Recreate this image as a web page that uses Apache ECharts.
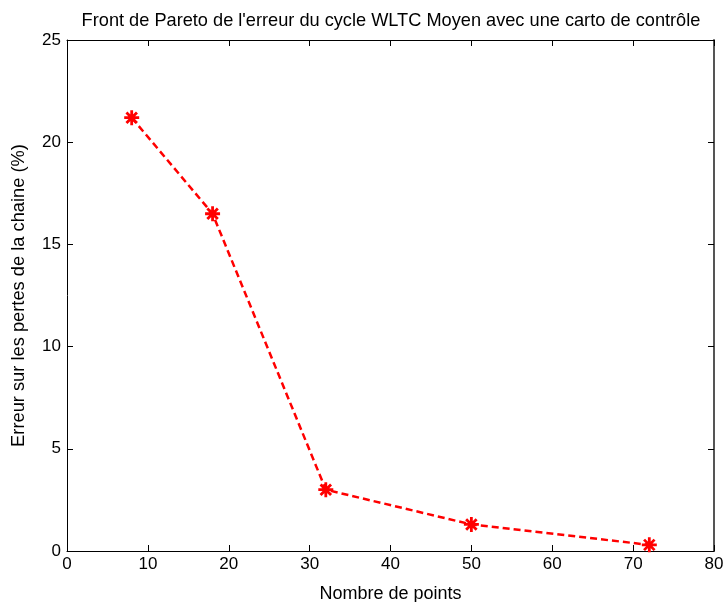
<!DOCTYPE html>
<html>
<head>
<meta charset="utf-8">
<script src="https://cdn.jsdelivr.net/npm/echarts@6/dist/echarts.min.js"></script>
<style>
  html, body { margin: 0; padding: 0; background: #fff; }
  #chart { width: 725px; height: 602px; }
</style>
</head>
<body>
<div id="chart"></div>
<script>
// nombre de points de la carto / erreur (%)
var nbPoints = [8, 18, 32, 50, 72];
var erreur = [21.2, 16.5, 3.0, 1.3, 0.3];
var xTicks = [0, 10, 20, 30, 40, 50, 60, 70, 80];
var yTicks = [0, 5, 10, 15, 20, 25];

var myChart = echarts.init(document.getElementById('chart'));
var font = 'Liberation Sans, Arial, sans-serif';

var data = [];
for (var i = 0; i < nbPoints.length; i++) {
  data.push([nbPoints[i], erreur[i]]);
}

// asterisque style matlab (+ et x)
var star = 'path://M0,-10L0,10M-10,0L10,0M-7,-7L7,7M-7,7L7,-7';

var option = {
  backgroundColor: '#fff',
  animation: false,
  title: {
    text: "Front de Pareto de l'erreur du cycle WLTC Moyen avec une carto de contrôle",
    left: 386, top: 7, textAlign: 'center',
    textStyle: { fontFamily: font, fontSize: 18.2, fontWeight: 'normal', color: '#000' }
  },
  grid: { left: 67, right: 11, top: 40, bottom: 51, outerBoundsMode: 'none', containLabel: false },
  xAxis: [{
    type: 'value', min: xTicks[0], max: xTicks[xTicks.length - 1], interval: 10,
    name: 'Nombre de points', nameLocation: 'middle', nameGap: 34,
    nameTextStyle: { fontFamily: font, fontSize: 18, color: '#000' },
    axisLine: { lineStyle: { color: '#000', width: 1 } },
    axisTick: { inside: true, length: 6, lineStyle: { color: '#000' } },
    axisLabel: { fontFamily: font, fontSize: 17, color: '#000', margin: 5 },
    splitLine: { show: false }
  }, {
    type: 'value', position: 'top', min: 0, max: 80, interval: 10,
    axisLine: { show: true, onZero: false, lineStyle: { color: '#000', width: 1 } },
    axisTick: { inside: true, length: 6, lineStyle: { color: '#000' } },
    axisLabel: { show: false },
    splitLine: { show: false }
  }],
  yAxis: [{
    type: 'value', min: yTicks[0], max: yTicks[yTicks.length - 1], interval: 5,
    name: 'Erreur sur les pertes de la chaine (%)', nameLocation: 'middle', nameGap: 39,
    nameTextStyle: { fontFamily: font, fontSize: 18.3, color: '#000' },
    axisLine: { show: true, lineStyle: { color: '#000', width: 1 } },
    axisTick: { show: true, inside: true, length: 6, lineStyle: { color: '#000' } },
    axisLabel: { fontFamily: font, fontSize: 17, color: '#000', margin: 6 },
    splitLine: { show: false }
  }, {
    type: 'value', position: 'right', min: 0, max: 25, interval: 5,
    axisLine: { show: true, onZero: false, lineStyle: { color: '#555', width: 2 } },
    axisTick: { show: true, inside: true, length: 6, lineStyle: { color: '#000' } },
    axisLabel: { show: false },
    splitLine: { show: false }
  }],
  series: [{
    type: 'line',
    data: data,
    symbol: star,
    symbolSize: 15,
    showAllSymbol: true,
    lineStyle: { color: '#ff0000', width: 2.5, type: [7, 4] },
    itemStyle: { color: '#ff0000', borderColor: '#ff0000', borderWidth: 2.8 }
  }]
};

myChart.setOption(option);
</script>
</body>
</html>
